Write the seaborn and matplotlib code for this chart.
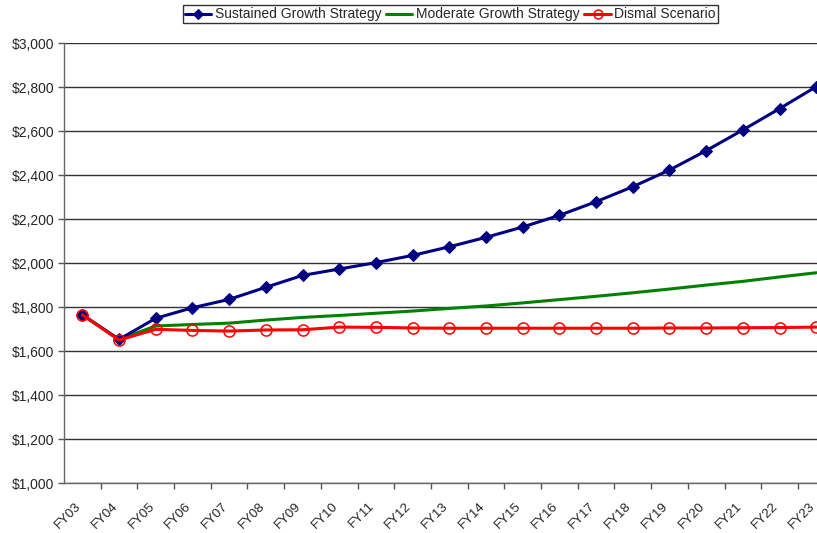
import numpy as np
import pandas as pd
import matplotlib
matplotlib.use('Agg')
import matplotlib.pyplot as plt
from matplotlib.ticker import FuncFormatter, FixedLocator
import seaborn as sns

years = ['FY03', 'FY04', 'FY05', 'FY06', 'FY07', 'FY08', 'FY09', 'FY10', 'FY11', 'FY12', 'FY13',
         'FY14', 'FY15', 'FY16', 'FY17', 'FY18', 'FY19', 'FY20', 'FY21', 'FY22', 'FY23']
sustained = [1766, 1654, 1750, 1798, 1836, 1891, 1945, 1974, 2003, 2036, 2075,
             2118, 2165, 2218, 2280, 2348, 2424, 2512, 2606, 2703, 2803]
moderate = [1766, 1654, 1715, 1722, 1728, 1742, 1754, 1763, 1773, 1783, 1795,
            1806, 1820, 1835, 1850, 1866, 1883, 1901, 1918, 1938, 1957]
dismal = [1766, 1651, 1700, 1695, 1692, 1697, 1698, 1710, 1709, 1706, 1705,
          1705, 1705, 1705, 1705, 1705, 1706, 1706, 1707, 1708, 1710]

sns.set_theme(style='white')
plt.rcParams['font.family'] = ['Liberation Sans', 'DejaVu Sans']

df = pd.DataFrame({'idx': np.arange(len(years)), 'sustained': sustained,
                   'moderate': moderate, 'dismal': dismal})

fig = plt.figure(figsize=(8.17, 5.33), dpi=100)
ax = fig.add_axes([0.0783, 0.0932, 0.9217, 0.8256])

sns.lineplot(data=df, x='idx', y='sustained', ax=ax, color='#000080', lw=2.2,
             marker='D', markersize=6, markeredgecolor='#000080',
             label='Sustained Growth Strategy', zorder=3)
sns.lineplot(data=df, x='idx', y='moderate', ax=ax, color='#008000', lw=2.2,
             label='Moderate Growth Strategy', zorder=2)
sns.lineplot(data=df, x='idx', y='dismal', ax=ax, color='#FF0000', lw=2.2,
             marker='o', markersize=8, markerfacecolor='none', markeredgecolor='#FF0000',
             markeredgewidth=1.1, label='Dismal Scenario', zorder=4)

ax.set_xlim(-0.5, 20.02)
ax.set_ylim(1000, 3000)
ax.set_yticks(np.arange(1000, 3001, 200))
ax.yaxis.set_major_formatter(FuncFormatter(lambda v, p: f'${v:,.0f}'))
ax.yaxis.grid(True, color='#333333', lw=1)
ax.set_axisbelow(True)

# labels sit a touch left of the category centre, like the original
ax.set_xticks(np.arange(len(years)) - 0.2)
ax.set_xticklabels(years, rotation=45, ha='right', rotation_mode='anchor', fontsize=9.5)
ax.xaxis.set_minor_locator(FixedLocator(np.arange(0.5, 20, 1)))
ax.tick_params(axis='x', which='major', length=0, pad=12)
ax.tick_params(axis='x', which='minor', length=4, width=1, color='#555555', direction='out', bottom=True)
ax.tick_params(axis='y', length=4, width=1, color='#555555', direction='out', left=True, labelsize=10, pad=3)
ax.set_xlabel('')
ax.set_ylabel('')

for s in ['top', 'right']:
    ax.spines[s].set_visible(False)
for s in ['left', 'bottom']:
    ax.spines[s].set_color('#666666')
    ax.spines[s].set_linewidth(1)

leg = ax.legend(loc='center', bbox_to_anchor=(0.551, 0.973), bbox_transform=fig.transFigure,
                ncol=3, fontsize=10, frameon=True, fancybox=False, edgecolor='black',
                handlelength=1.9, handletextpad=0.25, columnspacing=0.35,
                borderpad=0.15, borderaxespad=0, markerscale=0.8)
leg.get_frame().set_linewidth(1)

plt.savefig('out.png', dpi=100)
plt.close()
